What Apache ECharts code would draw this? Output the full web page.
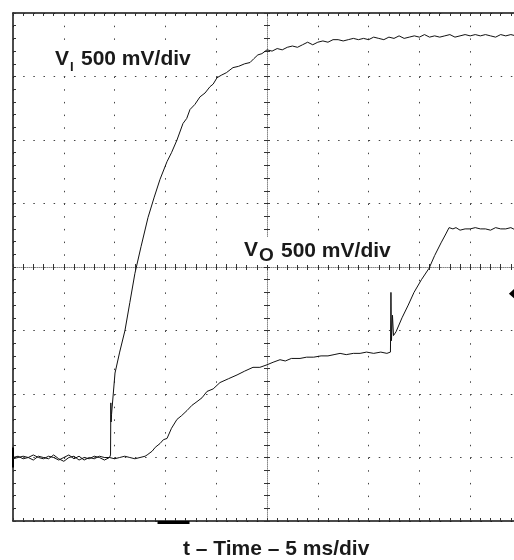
<!DOCTYPE html>
<html><head><meta charset="utf-8">
<script src="https://cdn.jsdelivr.net/npm/echarts@6/dist/echarts.min.js"></script>
<style>html,body{margin:0;padding:0;background:#fff}#c{width:514px;height:560px}</style>
</head><body><div id="c"></div>
<script>
// time in ms (5 ms/div), voltage in V (500 mV/div), screen 10 x 8 div
const xTicks = [0,5,10,15,20,25,30,35,40,45,50];
const yTicks = [0,0.5,1,1.5,2,2.5,3,3.5,4];

const viTime = [0,0.5,1,1.5,2,2.5,3,3.5,4,4.5,5,5.5,6,6.5,7,7.5,8,8.5,9,9.5,
  9.6,9.63,9.66,9.7,10.04,10.5,11.02,11.5,12.0,12.6,13.29,13.9,14.47,15.16,15.6,16.14,16.73,17.1,17.42,17.9,
  18.41,18.9,19.39,19.7,20.08,20.5,21.0,21.65,22.2,22.8,23.33,23.7,24.1,24.5,25.0,25.5,26.0,26.5,27.0,27.5,
  28.0,28.5,29.0,29.5,30.0,30.5,31.0,31.5,32.0,32.5,33.0,33.5,34.0,34.5,35.0,35.5,36.0,36.5,37.0,37.5,
  38.0,38.5,39.0,39.5,40.0,40.5,41.0,41.5,42.0,42.5,43.0,43.5,44.0,44.5,45.0,45.5,46.0,46.5,47.0,47.5,
  48.0,48.5,49.0,49.5,50.0];
const viVolt = [0.50,0.51,0.49,0.50,0.52,0.50,0.49,0.51,0.50,0.48,0.50,0.52,0.49,0.51,0.48,0.50,0.49,0.51,0.50,0.50,
  0.52,0.93,0.78,0.84,1.165,1.33,1.50,1.72,1.95,2.16,2.39,2.55,2.69,2.83,2.90,3.00,3.13,3.17,3.24,3.28,
  3.34,3.37,3.42,3.44,3.49,3.51,3.53,3.57,3.58,3.60,3.61,3.64,3.67,3.68,3.71,3.70,3.72,3.71,3.73,3.74,
  3.73,3.75,3.77,3.75,3.77,3.78,3.77,3.79,3.79,3.78,3.79,3.80,3.79,3.80,3.79,3.81,3.80,3.79,3.81,3.80,
  3.82,3.80,3.81,3.82,3.81,3.83,3.81,3.82,3.81,3.82,3.83,3.81,3.82,3.83,3.82,3.83,3.82,3.83,3.82,3.81,
  3.83,3.82,3.83,3.82,3.83];

const voTime = [0,0.5,1,1.5,2,2.5,3,3.5,4,4.5,5,5.5,6,6.5,7,7.5,8,8.5,9,9.5,10,10.5,11,11.5,12,12.5,13,
  13.2,13.7,14.0,14.47,14.8,15.16,15.6,16.14,16.6,17.13,17.6,18.11,18.6,19.09,19.7,20.37,21.2,22.05,22.8,23.62,
  24.3,25.0,25.6,26.28,26.8,27.4,28.25,28.9,29.6,30.32,31.0,31.6,32.19,32.8,33.5,34.16,34.8,35.5,36.2,36.8,
  37.15,37.2,37.25,37.35,37.45,37.7,38.29,38.9,39.47,40.2,40.95,41.5,42.13,42.6,42.92,43.3,43.6,44.0,44.5,
  45.0,45.5,46.0,46.5,47.0,47.5,48.0,48.5,49.0,49.5,50.0];
const voVolt = [0.49,0.50,0.51,0.50,0.48,0.51,0.50,0.49,0.52,0.49,0.47,0.50,0.51,0.48,0.50,0.49,0.51,0.50,0.48,0.50,0.49,0.50,0.51,0.50,0.49,0.50,0.51,
  0.52,0.55,0.58,0.61,0.64,0.65,0.73,0.80,0.83,0.87,0.91,0.94,0.97,1.02,1.04,1.09,1.12,1.15,1.18,1.21,
  1.21,1.23,1.25,1.27,1.26,1.28,1.28,1.29,1.29,1.30,1.30,1.31,1.32,1.31,1.32,1.32,1.33,1.32,1.33,1.32,
  1.33,1.80,1.42,1.62,1.46,1.49,1.60,1.70,1.80,1.90,1.99,2.09,2.19,2.26,2.31,2.30,2.31,2.29,2.30,
  2.30,2.31,2.30,2.30,2.29,2.31,2.30,2.30,2.31,2.29,2.30];

const groundLevel = 0.5;     // channel reference marker (left edge)
const triggerLevel = 1.79;   // trigger level marker (right edge)
const triggerTime = 15.8;    // trigger position marker (bottom)

const zip = (a, b) => a.map((t, i) => [t, b[i]]);
const FONT = '"Liberation Sans", Arial, Helvetica, sans-serif';
const TXT = '#1a1a1a';

function baseX(extra) {
  return Object.assign({
    type: 'value', min: xTicks[0], max: xTicks[xTicks.length-1], interval: xTicks[1]-xTicks[0],
    axisLabel: {show: false}, splitLine: {show: false},
    axisLine: {show: true, onZero: false, lineStyle: {color: '#111', width: 1.5}},
    axisTick: {show: true, inside: true, length: 3, lineStyle: {color: '#333', width: 1}},
    minorTick: {show: true, splitNumber: 5, length: 3, lineStyle: {color: '#333', width: 1}}
  }, extra);
}
function baseY(extra) {
  return Object.assign({
    type: 'value', min: yTicks[0], max: yTicks[yTicks.length-1], interval: yTicks[1]-yTicks[0],
    axisLabel: {show: false}, splitLine: {show: false},
    axisLine: {show: true, onZero: false, lineStyle: {color: '#111', width: 1.5}},
    axisTick: {show: true, inside: true, length: 3, lineStyle: {color: '#333', width: 1}},
    minorTick: {show: true, splitNumber: 5, length: 3, lineStyle: {color: '#333', width: 1}}
  }, extra);
}

const centerLine = {show: true, onZero: false, lineStyle: {color: '#888', width: 1, type: [1, 1]}};
const noLine = {show: false, onZero: false};

function txt(x, y, s, size) {
  return {type: 'text', x: x, y: y, z: 11,
    style: {text: s, font: 'bold ' + size + 'px ' + FONT, fill: TXT, verticalAlign: 'middle', textVerticalAlign: 'middle'}};
}
function box(x, y, w, h) {
  return {type: 'rect', z: 10, shape: {x: x, y: y, width: w, height: h}, style: {fill: '#fff'}};
}

const option = {
  animation: false,
  backgroundColor: '#fff',
  grid: {left: 13, top: 13, width: 508, height: 508, outerBoundsMode: 'none', containLabel: false},
  xAxis: [
    baseX({position: 'bottom', splitLine: {show: true, lineStyle: {color: '#444', width: 1, type: [1.5, 11.2]}}}),
    baseX({position: 'top'}),
    baseX({position: 'bottom', offset: -254, axisLine: centerLine}),
    baseX({position: 'bottom', offset: -254, axisLine: noLine, axisTick: {show: true, inside: false, length: 3, lineStyle: {color: '#333'}}})
  ],
  yAxis: [
    baseY({position: 'left', splitLine: {show: true, lineStyle: {color: '#444', width: 1, type: [1.5, 8.66]}}}),
    baseY({position: 'left', offset: -254, axisLine: centerLine}),
    baseY({position: 'left', offset: -254, axisLine: noLine, axisTick: {show: true, inside: false, length: 3, lineStyle: {color: '#333'}}})
  ],
  series: [
    {name: 'VI', type: 'line', xAxisIndex: 0, yAxisIndex: 0, data: zip(viTime, viVolt),
     showSymbol: false, symbol: 'none', lineStyle: {color: '#111', width: 1}, z: 5},
    {name: 'VO', type: 'line', xAxisIndex: 0, yAxisIndex: 0, data: zip(voTime, voVolt),
     showSymbol: false, symbol: 'none', lineStyle: {color: '#111', width: 1}, z: 5,
     markPoint: {silent: true, label: {show: false}, itemStyle: {color: '#000'},
       data: [
         {coord: [xTicks[0], groundLevel], symbol: 'rect', symbolSize: [2, 20]},
         {coord: [49.4, triggerLevel], symbol: 'diamond', symbolSize: [12, 11]},
         {coord: [triggerTime, yTicks[0]], symbol: 'rect', symbolSize: [32, 3], symbolOffset: [0, 1.5]}
       ]}}
  ],
  graphic: [
    box(50, 42, 147, 33),
    box(240, 237, 155, 28),
    txt(55, 59, 'V', 21),
    txt(70, 67.5, 'I', 13),
    txt(81, 59, '500 mV/div', 21),
    txt(244, 250, 'V', 21),
    txt(259, 256, 'O', 19),
    txt(281, 251, '500 mV/div', 21),
    txt(183, 549, 't – Time – 5 ms/div', 21)
  ]
};

const chart = echarts.init(document.getElementById('c'), null, {renderer: 'canvas'});
chart.setOption(option);
</script>
</body></html>
